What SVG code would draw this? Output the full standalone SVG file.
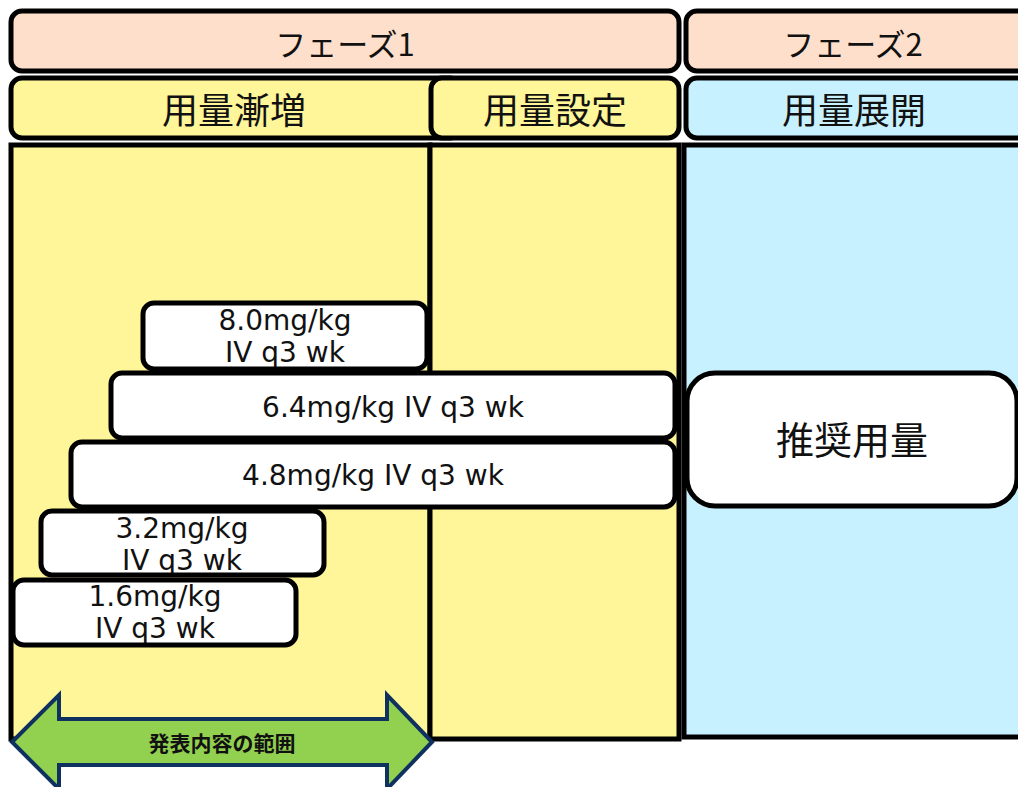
<svg xmlns="http://www.w3.org/2000/svg" width="1018" height="787" viewBox="0 0 1018 787">
<style>
.hdr{stroke:#000;stroke-width:5}
.phase{fill:#FDDFCB}
.yel{fill:#FFF599}
.blu{fill:#C8F1FF}
.col{stroke:#000;stroke-width:5}
.jp{font-family:"Noto Sans CJK JP","Noto Sans",sans-serif;fill:#111;text-anchor:middle}
.en{font-family:"DejaVu Sans",Verdana,sans-serif;font-size:28px;fill:#111;text-anchor:middle}
.box{fill:#fff}
.bst{fill:none;stroke:#000;stroke-width:5}
</style>
<rect width="1018" height="787" fill="#fff"/>
<g id="phase1"><rect class="hdr phase" x="11" y="11" width="668" height="60" rx="11"/><text class="jp" x="345" y="56" font-size="31">フェーズ1</text></g>
<g id="phase2"><rect class="hdr phase" x="686" y="11" width="345" height="60" rx="11"/><text class="jp" x="853" y="56" font-size="31">フェーズ2</text></g>
<g id="col-body">
<rect class="col yel" x="11" y="145" width="419" height="594"/>
<rect class="col yel" x="430" y="145" width="249" height="594"/>
<rect class="col blu" x="684" y="145" width="345" height="592"/>
</g>
<g id="escalation"><rect class="hdr yel" x="11" y="78" width="450" height="60" rx="11"/><text class="jp" x="234" y="124" font-size="36">用量漸増</text></g>
<g id="setting"><rect class="hdr yel" x="431" y="78" width="248" height="60" rx="11"/><text class="jp" x="555" y="124" font-size="36">用量設定</text></g>
<g id="expansion"><rect class="hdr blu" x="686" y="78" width="345" height="60" rx="11"/><text class="jp" x="854" y="124" font-size="36">用量展開</text></g>
<g id="dose8"><rect class="box" x="143" y="303" width="284" height="66" rx="11"/><text class="en" x="285" y="330">8.0mg/kg</text><text class="en" x="285" y="362">IV q3 wk</text><rect class="bst" x="143" y="303" width="284" height="66" rx="11"/></g>
<g id="dose64"><rect class="box" x="111" y="373" width="564" height="65" rx="11"/><text class="en" x="393" y="417">6.4mg/kg IV q3 wk</text><rect class="bst" x="111" y="373" width="564" height="65" rx="11"/></g>
<g id="dose48"><rect class="box" x="71" y="442" width="604" height="65" rx="11"/><text class="en" x="373" y="485">4.8mg/kg IV q3 wk</text><rect class="bst" x="71" y="442" width="604" height="65" rx="11"/></g>
<g id="dose32"><rect class="box" x="41" y="511" width="283" height="64" rx="11"/><text class="en" x="182" y="538">3.2mg/kg</text><text class="en" x="182" y="570">IV q3 wk</text><rect class="bst" x="41" y="511" width="283" height="64" rx="11"/></g>
<g id="dose16"><rect class="box" x="13" y="580" width="283" height="65" rx="11"/><text class="en" x="155" y="606">1.6mg/kg</text><text class="en" x="155" y="638">IV q3 wk</text><rect class="bst" x="13" y="580" width="283" height="65" rx="11"/></g>
<g id="recommended"><rect x="687" y="373" width="330" height="133" rx="28" fill="#fff" stroke="#000" stroke-width="5"/><text class="jp" x="852" y="454" font-size="38">推奨用量</text></g>
<g id="scope-arrow">
<polygon points="12,742 59,695 59,719 387,719 387,695 432,742 387,789 387,765 59,765 59,789" fill="#92D050" stroke="#0E3160" stroke-width="4" stroke-linejoin="miter"/>
<text class="jp" x="222" y="751" font-size="21" font-weight="bold">発表内容の範囲</text>
</g>
</svg>
